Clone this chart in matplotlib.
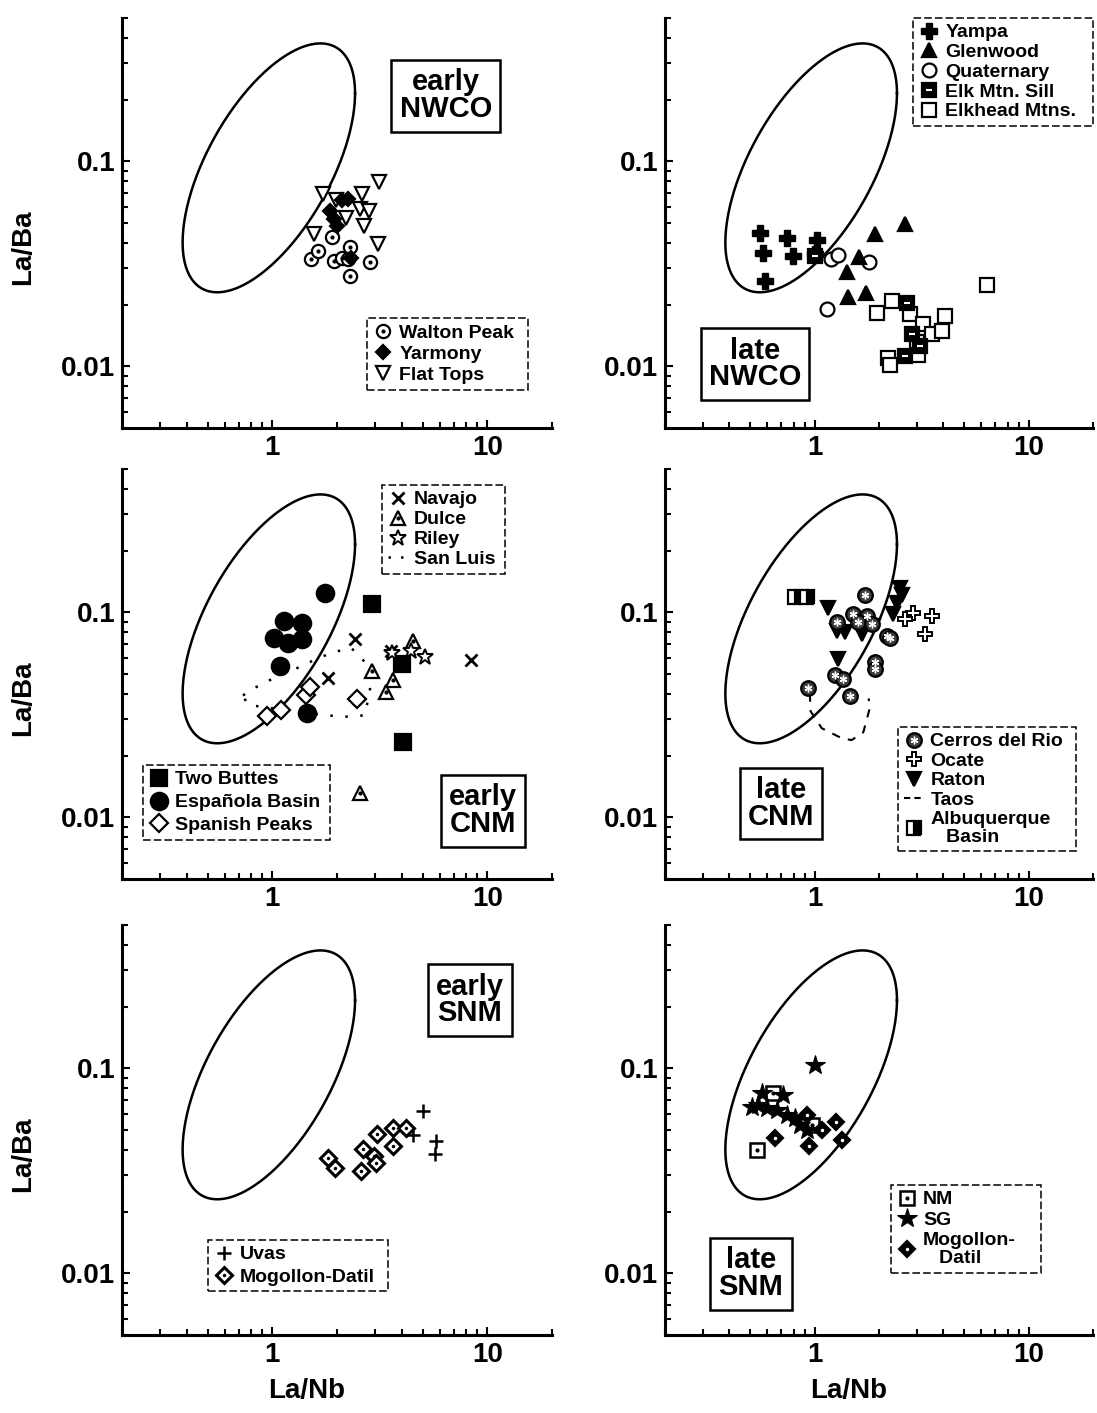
import numpy as np
import matplotlib
matplotlib.use("Agg")
import matplotlib.pyplot as plt
from matplotlib.lines import Line2D
from matplotlib.ticker import FormatStrFormatter, NullFormatter

plt.rcParams['font.family'] = ['Liberation Sans', 'DejaVu Sans']
plt.rcParams['font.weight'] = 'bold'
plt.rcParams['axes.labelweight'] = 'bold'

# ---- reference field (log-space ellipse): centre, half extents, x/y phase
FIELD_CX, FIELD_CY = -0.016, -1.032
FIELD_HX, FIELD_HY = 0.401, 0.607
FIELD_PHASE = np.arccos(0.599)

# ---- early NWCO
walton_x = [1.51, 1.64, 1.89, 2.29, 1.94, 2.10, 2.29, 2.85, 2.25]
walton_y = [0.0334, 0.0366, 0.0425, 0.0384, 0.0326, 0.0337, 0.0275, 0.0322, 0.0335]
yarmony_x = [2.25, 2.11, 1.86, 1.93, 2.00, 2.33]
yarmony_y = [0.0656, 0.0650, 0.0572, 0.0521, 0.0483, 0.0336]
flattops_x = [1.72, 1.97, 2.20, 2.61, 2.57, 2.82, 2.67, 3.13, 1.57, 3.10]
flattops_y = [0.0689, 0.0650, 0.0531, 0.0689, 0.0582, 0.0572, 0.0483, 0.0790, 0.0440, 0.0394]

# ---- late NWCO
yampa_x = [0.555, 0.746, 1.03, 0.576, 0.796, 1.00, 0.587]
yampa_y = [0.0446, 0.0422, 0.0413, 0.0357, 0.0344, 0.0353, 0.0260]
glenwood_x = [2.64, 1.92, 1.62, 1.42, 1.44, 1.73]
glenwood_y = [0.0494, 0.0442, 0.0340, 0.0289, 0.0218, 0.0229]
quaternary_x = [1.19, 1.28, 1.79, 1.14]
quaternary_y = [0.0334, 0.0349, 0.0322, 0.0191]
elksill_x = [1.00, 2.69, 2.84, 3.10, 2.64]
elksill_y = [0.0347, 0.0204, 0.0143, 0.0125, 0.0112]
elkhead_x = [6.40, 1.95, 2.29, 2.79, 4.06, 3.22, 3.52, 3.92, 3.00, 2.21, 2.25, 3.05]
elkhead_y = [0.0248, 0.0182, 0.0208, 0.0179, 0.0175, 0.0160, 0.0143, 0.0148, 0.0132, 0.0110, 0.0102, 0.0114]

# ---- early CNM
twobuttes_x = [2.92, 4.00, 4.05]
twobuttes_y = [0.1097, 0.0560, 0.0233]
espanola_x = [1.75, 1.13, 1.37, 1.02, 1.18, 1.37, 1.09, 1.45]
espanola_y = [0.124, 0.0905, 0.0888, 0.0752, 0.0711, 0.0738, 0.0550, 0.0321]
spanish_x = [0.94, 1.10, 1.44, 1.49, 2.47]
spanish_y = [0.0311, 0.0333, 0.0393, 0.0430, 0.0379]
navajo_x = [2.42, 1.81, 3.55, 8.37]
navajo_y = [0.0741, 0.0480, 0.0648, 0.0585]
dulce_x = [2.91, 4.52, 3.63, 3.37, 2.56]
dulce_y = [0.0519, 0.0728, 0.0465, 0.0408, 0.0132]
riley_x = [3.60, 4.43, 5.15]
riley_y = [0.0636, 0.0649, 0.0607]
sanluis_x = [0.73, 0.826, 0.938, 1.25, 1.39, 1.89, 2.33, 2.71, 2.85, 2.70, 2.34, 1.99, 1.69, 0.905, 0.77, 0.73]
sanluis_y = [0.0393, 0.0427, 0.0459, 0.0522, 0.0553, 0.0636, 0.0670, 0.0569, 0.0424, 0.0315, 0.0309, 0.0311, 0.0317, 0.0345, 0.0354, 0.0393]

# ---- late CNM
cerros_x = [1.72, 1.52, 1.75, 1.27, 1.60, 1.85, 2.17, 2.25, 1.91, 1.91, 1.24, 1.36, 0.935, 1.46]
cerros_y = [0.121, 0.0978, 0.0960, 0.0892, 0.0892, 0.0875, 0.0768, 0.0746, 0.0572, 0.0531, 0.0496, 0.0475, 0.0425, 0.0392]
ocate_x = [3.52, 3.28, 2.89, 2.64]
ocate_y = [0.0960, 0.0783, 0.0996, 0.0925]
raton_x = [1.29, 1.16, 1.27, 1.39, 1.66, 2.50, 2.55, 2.42, 2.33, 1.88]
raton_y = [0.0593, 0.1054, 0.0812, 0.0798, 0.0783, 0.1315, 0.1220, 0.1114, 0.0978, 0.0859]
taos_x = [0.95, 0.958, 1.08, 1.34, 1.49, 1.69, 1.81, 1.79]
taos_y = [0.0402, 0.0329, 0.0272, 0.0243, 0.0238, 0.0260, 0.0340, 0.0380]
albuq_x = [0.81, 0.918]
albuq_y = [0.119, 0.119]

# ---- early SNM
uvas_x = [5.04, 5.76, 5.71, 4.50]
uvas_y = [0.0617, 0.0442, 0.0384, 0.0472]
mogollon_e_x = [1.82, 1.95, 2.59, 2.64, 2.96, 3.04, 3.07, 3.65, 3.65, 4.17]
mogollon_e_y = [0.0367, 0.0328, 0.0316, 0.0402, 0.0374, 0.0347, 0.0476, 0.0513, 0.0418, 0.0513]

# ---- late SNM
nm_x = [0.641, 0.540, 0.968]
nm_y = [0.0760, 0.0398, 0.0531]
sg_x = [1.00, 0.545, 0.508, 0.597, 0.714, 0.664, 0.740, 0.809, 0.853, 0.917, 0.565]
sg_y = [0.104, 0.0662, 0.0650, 0.0638, 0.0741, 0.0626, 0.0593, 0.0571, 0.0531, 0.0501, 0.0755]
mogollon_l_x = [0.652, 0.917, 1.08, 1.26, 0.944, 1.34]
mogollon_l_y = [0.0457, 0.0593, 0.0501, 0.0545, 0.0417, 0.0449]

W, H = 1097, 1413
fig = plt.figure(figsize=(W / 100, H / 100), dpi=100)


def panel(left, top, width=430, height=410):
    ax = fig.add_axes([left / W, 1 - (top + height) / H, width / W, height / H])
    ax.set_xscale('log')
    ax.set_yscale('log')
    ax.set_xlim(0.2, 20)
    ax.set_ylim(0.005, 0.5)
    for s in ('top', 'right'):
        ax.spines[s].set_visible(False)
    for s in ('left', 'bottom'):
        ax.spines[s].set_linewidth(2.2)
    for axis in (ax.xaxis, ax.yaxis):
        axis.set_major_formatter(FormatStrFormatter('%g'))
        axis.set_minor_formatter(NullFormatter())
    ax.tick_params(which='both', direction='in', width=1.5, labelsize=20)
    ax.tick_params(which='major', length=6, pad=5)
    ax.tick_params(which='minor', length=4)
    t = np.linspace(0, 2 * np.pi, 300)
    ax.plot(10 ** (FIELD_CX + FIELD_HX * np.cos(t)),
            10 ** (FIELD_CY + FIELD_HY * np.cos(t - FIELD_PHASE)),
            color='black', lw=1.8, zorder=1)
    return ax


def pts(ax, x, y, marker, ms, face='white', mew=1.6, **kw):
    return ax.plot(x, y, linestyle='none', marker=marker, ms=ms, mfc=face,
                   mec='black', mew=mew, zorder=3, **kw)[0]


def dots(ax, x, y, ms=3.5, color='black'):
    return ax.plot(x, y, linestyle='none', marker='o', ms=ms, mfc=color,
                   mec=color, mew=0, zorder=4)[0]


def key(ax, handles, labels, x, y, w, spacing=0.15):
    leg = ax.legend(handles, labels, loc='upper left', bbox_to_anchor=(x, y, w, 0),
                    mode='expand', fontsize=14, labelspacing=spacing,
                    handlelength=1.0, handletextpad=0.35, borderpad=0.3,
                    borderaxespad=0, fancybox=False, framealpha=1,
                    edgecolor='black', numpoints=1)
    for txt in leg.get_texts():
        txt.set_linespacing(1.05)
    leg.get_frame().set_linestyle((0, (5, 2)))
    leg.get_frame().set_linewidth(1.1)
    leg.set_zorder(6)
    return leg


def tag(ax, x, y, text):
    ax.text(x, y, text, transform=ax.transAxes, ha='center', va='center',
            multialignment='center', fontsize=21, linespacing=0.95, zorder=7,
            bbox=dict(boxstyle='square,pad=0.28', fc='white', ec='black', lw=1.8))


def ylab(ax):
    ax.set_ylabel('La/Ba', fontsize=20)
    ax.yaxis.set_label_coords(-0.2, 0.44)


def xlab(ax):
    ax.set_xlabel('La/Nb', fontsize=20)
    ax.xaxis.set_label_coords(0.43, -0.105)


# early NWCO
ax1 = panel(122, 18)
h_wp = (pts(ax1, walton_x, walton_y, 'o', 9.5), dots(ax1, walton_x, walton_y, 3))
h_ft = pts(ax1, flattops_x, flattops_y, 'v', 10)
h_ya = pts(ax1, yarmony_x, yarmony_y, 'D', 7, face='black')
key(ax1, [h_wp, h_ya, h_ft], ['Walton Peak', 'Yarmony', 'Flat Tops'], 0.57, 0.268, 0.374,
    spacing=0.19)
tag(ax1, 0.753, 0.81, 'early\nNWCO')
ylab(ax1)

# late NWCO
ax2 = panel(665, 18, width=428)
h_eh = pts(ax2, elkhead_x, elkhead_y, 's', 9.5)
h_es = (pts(ax2, elksill_x, elksill_y, 's', 9.5, face='black'),
        ax2.plot(elksill_x, elksill_y, linestyle='none', marker='_', ms=4,
                 mec='white', mew=1.5, zorder=4)[0])
h_q = pts(ax2, quaternary_x, quaternary_y, 'o', 10)
h_g = pts(ax2, glenwood_x, glenwood_y, '^', 9.5, face='black')
h_y = pts(ax2, yampa_x, yampa_y, 'P', 12, face='black', mew=1)
key(ax2, [h_y, h_g, h_q, h_es, h_eh],
    ['Yampa', 'Glenwood', 'Quaternary', 'Elk Mtn. Sill', 'Elkhead Mtns.'],
    0.58, 1.0, 0.42, spacing=0.11)
tag(ax2, 0.21, 0.156, 'late\nNWCO')

# early CNM
ax3 = panel(122, 469)
ax3.plot(sanluis_x, sanluis_y, color='black', lw=1.8, linestyle=(0, (1, 5)), zorder=2)
h_sp = pts(ax3, spanish_x, spanish_y, 'D', 9)
h_eb = pts(ax3, espanola_x, espanola_y, 'o', 12.5, face='black')
h_tb = pts(ax3, twobuttes_x, twobuttes_y, 's', 11.5, face='black')
h_du = (pts(ax3, dulce_x, dulce_y, '^', 10.5), dots(ax3, dulce_x, dulce_y, 3))
h_nv = pts(ax3, navajo_x, navajo_y, 'x', 8.5, mew=2)
h_ri = pts(ax3, riley_x, riley_y, '*', 12, mew=1.4)
h_sl = Line2D([], [], color='black', lw=1.8, linestyle=(0, (1, 4)))
top_key = key(ax3, [h_nv, h_du, h_ri, h_sl], ['Navajo', 'Dulce', 'Riley', 'San Luis'],
              0.605, 0.961, 0.286, spacing=0.12)
ax3.add_artist(top_key)
key(ax3, [h_tb, h_eb, h_sp], ['Two Buttes', 'Española Basin', 'Spanish Peaks'],
    0.049, 0.278, 0.435, spacing=0.27)
tag(ax3, 0.84, 0.166, 'early\nCNM')
ylab(ax3)

# late CNM
ax4 = panel(665, 469, width=428)
ax4.plot(taos_x, taos_y, color='black', lw=1.5, linestyle=(0, (4, 4)), zorder=2)
h_ab = ax4.plot(albuq_x, albuq_y, linestyle='none', marker='s', ms=10, fillstyle='right',
                mfc='black', markerfacecoloralt='white', mec='black', mew=1.6, zorder=3)[0]
h_oc = pts(ax4, ocate_x, ocate_y, 'P', 10, mew=1.4)
h_ra = pts(ax4, raton_x, raton_y, 'v', 10, face='black')
h_cr = (pts(ax4, cerros_x, cerros_y, 'o', 10.5, face='0.25'),
        ax4.plot(cerros_x, cerros_y, linestyle='none', marker=(6, 2, 0), ms=5.5,
                 mec='white', mew=1.0, zorder=4)[0])
h_ta = Line2D([], [], color='black', lw=1.5, linestyle=(0, (3, 2)))
key(ax4, [h_cr, h_oc, h_ra, h_ta, h_ab],
    ['Cerros del Rio', 'Ocate', 'Raton', 'Taos', 'Albuquerque\n   Basin'],
    0.545, 0.371, 0.416, spacing=0.1)
tag(ax4, 0.271, 0.185, 'late\nCNM')

# early SNM
ax5 = panel(122, 925)
h_mo = (pts(ax5, mogollon_e_x, mogollon_e_y, 'D', 8.5, mew=2.2),
        dots(ax5, mogollon_e_x, mogollon_e_y, 2.5))
h_uv = pts(ax5, uvas_x, uvas_y, '+', 10, mew=1.8)
key(ax5, [h_uv, h_mo], ['Uvas', 'Mogollon-Datil'], 0.2, 0.232, 0.419, spacing=0.24)
tag(ax5, 0.809, 0.817, 'early\nSNM')
ylab(ax5)
xlab(ax5)

# late SNM
ax6 = panel(665, 925, width=428)
h_nm = (pts(ax6, nm_x, nm_y, 's', 10, mew=1.8), dots(ax6, nm_x, nm_y, 3))
h_sg = pts(ax6, sg_x, sg_y, '*', 15, face='black', mew=0.8)
h_ml = (pts(ax6, mogollon_l_x, mogollon_l_y, 'D', 8.5, face='black'),
        dots(ax6, mogollon_l_x, mogollon_l_y, 2.5, color='white'))
key(ax6, [h_nm, h_sg, h_ml], ['NM', 'SG', 'Mogollon-\n   Datil'], 0.528, 0.366, 0.35,
    spacing=0.16)
tag(ax6, 0.201, 0.149, 'late\nSNM')
xlab(ax6)

fig.savefig('out.png', dpi=100)
